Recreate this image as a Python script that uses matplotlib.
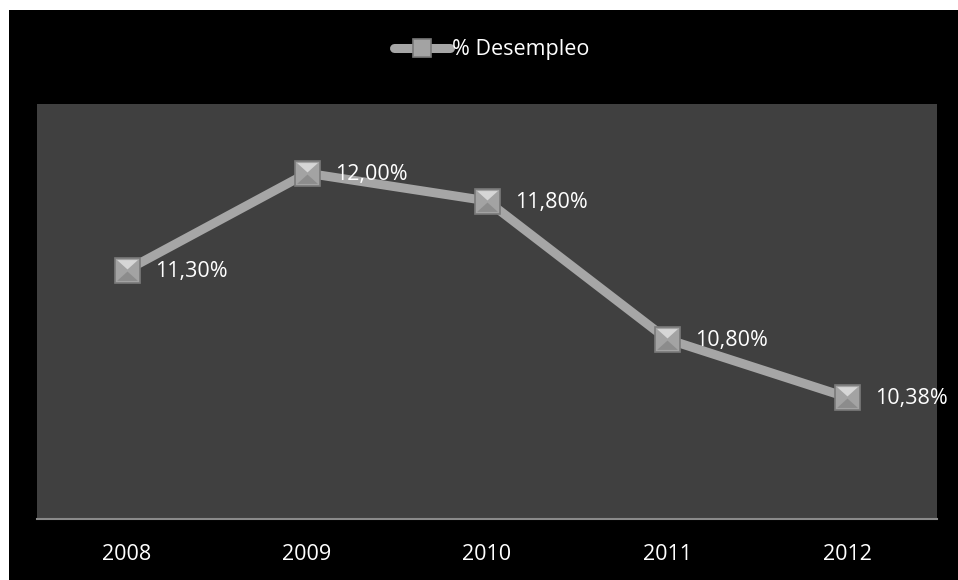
import matplotlib.pyplot as plt
from matplotlib.patches import Rectangle

years = ["2008", "2009", "2010", "2011", "2012"]
desempleo = [11.30, 12.00, 11.80, 10.80, 10.38]
labels = ["11,30%", "12,00%", "11,80%", "10,80%", "10,38%"]

W, H = 958, 580
fig = plt.figure(figsize=(W / 100, H / 100), dpi=100)
fig.patch.set_facecolor("white")

# black chart frame
fig.patches.append(Rectangle((9 / W, 0), 1 - 9 / W, 1 - 10 / H,
                             transform=fig.transFigure, facecolor="black",
                             edgecolor="none", zorder=-5))

ax = fig.add_axes([37 / W, 1 - 519 / H, 900 / W, 415 / H])
ax.set_zorder(2)
ax.set_facecolor("#404040")

x = list(range(len(years)))
ax.plot(x, desempleo, color="#a6a6a6", lw=6.5, solid_capstyle="round",
        marker="s", markersize=18, markerfacecolor="#a3a3a3",
        markeredgecolor="#7a7a7a", markeredgewidth=1.2,
        label="% Desempleo", zorder=3)
# bevel facets on the square markers
ax.plot(x, desempleo, ls="none", marker=[(-1, 1), (1, 1), (0, 0.1)],
        markersize=15, markerfacecolor="#d6d6d6", markeredgewidth=0, zorder=4)
ax.plot(x, desempleo, ls="none", marker=[(-1, -1), (1, -1), (0, -0.1)],
        markersize=15, markerfacecolor="#8c8c8c", markeredgewidth=0, zorder=4)

for i, (v, t) in enumerate(zip(desempleo, labels)):
    ax.annotate(t, (i, v), xytext=(20, -1), textcoords="offset points",
                ha="left", va="center", color="white", fontsize=15.5,
                family="Open Sans", zorder=5)

ax.set_xlim(-0.5, 4.5)
ax.set_ylim(9.5, 12.5)
ax.set_xticks(x)
ax.set_xticklabels(years, color="white", fontsize=15.5, family="Open Sans")
ax.tick_params(axis="x", length=0, pad=18)
ax.set_yticks([])
for s in ["top", "left", "right"]:
    ax.spines[s].set_visible(False)
ax.spines["bottom"].set_color("#8a8a8a")
ax.spines["bottom"].set_linewidth(1.5)

leg = fig.legend(loc="center", bbox_to_anchor=(492 / W, 1 - 50 / H),
                 frameon=False, handlelength=2.6, handletextpad=0.1,
                 markerscale=0.75, prop={"family": "Open Sans", "size": 15.5})
leg.set_zorder(3)
for txt in leg.get_texts():
    txt.set_color("white")

fig.savefig("out.png", dpi=100, facecolor=fig.get_facecolor())
